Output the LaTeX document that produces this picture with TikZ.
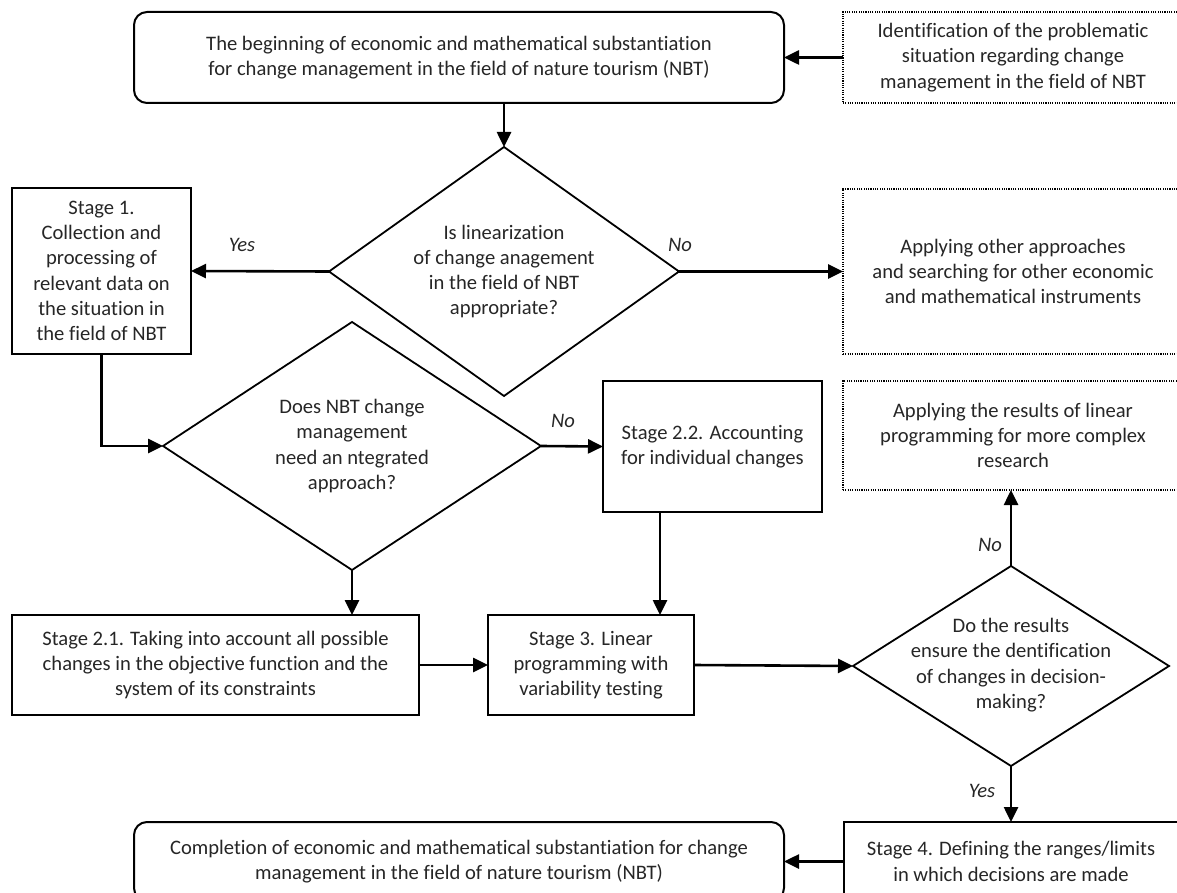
\documentclass[tikz,border=0pt]{standalone}
\usepackage{fontspec}
\setmainfont[Ligatures=NoCommon]{Carlito}
\usetikzlibrary{shapes.geometric,arrows.meta}
\begin{document}
\begin{tikzpicture}[x=1pt,y=-1pt,
  every node/.style={font=\fontsize{20.6}{25.3}\selectfont, text=black!85, align=center, inner sep=0pt, outer sep=0pt},
  rbox/.style={draw, line width=2pt, rounded corners=13pt, anchor=center},
  sbox/.style={draw, line width=2pt, anchor=center},
  dbox/.style={draw, line width=1.2pt, dash pattern=on 1.1pt off 1.2pt, anchor=center},
  dia/.style={draw, diamond, line width=1.8pt, shape aspect=1},
  lab/.style={font=\fontsize{20.6}{25.3}\selectfont\itshape},
  arr/.style={line width=2.6pt, -{Triangle[length=15pt,width=14pt]}}
]
\useasboundingbox (0,0) rectangle (1177,893);
\clip (0,0) rectangle (1177,893);

% boxes
\node[rbox, minimum width=650pt, minimum height=91pt] (top) at (459,57.5)
  {The beginning of economic and mathematical substantiation\\for change management in the field of nature tourism (NBT)};
\node[dbox, minimum width=340pt, minimum height=91pt] (ident) at (1013,57.5)
  {Identification of the problematic\\situation regarding change\\management in the field of NBT};
\node[dbox, minimum width=340pt, minimum height=165pt] (other) at (1013,271.5)
  {Applying other approaches\\and searching for other economic\\and mathematical instruments};
\node[dbox, minimum width=340pt, minimum height=109pt] (apply) at (1013,435.5)
  {Applying the results of linear\\programming for more complex\\research};
\node[sbox, minimum width=179pt, minimum height=166pt] (s1) at (101.5,271)
  {Stage 1.\\Collection and\\processing of\\relevant data on\\the situation in\\the field of NBT};
\node[sbox, minimum width=219pt, minimum height=131pt] (s22) at (712.5,446.5)
  {Stage 2.2. Accounting\\for individual changes};
\node[sbox, minimum width=407pt, minimum height=100pt] (s21) at (215.5,665)
  {Stage 2.1. Taking into account all possible\\changes in the objective function and the\\system of its constraints};
\node[sbox, minimum width=206pt, minimum height=100pt] (s3) at (591,665)
  {Stage 3. Linear\\programming with\\variability testing};
\node[sbox, minimum width=334pt, minimum height=79pt] (s4) at (1011,861.5)
  {Stage 4. Defining the ranges/limits\\in which decisions are made};
\node[rbox, minimum width=650pt, minimum height=79pt] (bot) at (459,861.5)
  {Completion of economic and mathematical substantiation for change\\management in the field of nature tourism (NBT)};

% diamonds
\node[dia, minimum width=350pt, minimum height=249pt] (d1) at (504,271.5) {};
\node at (d1.center) {Is linearization\\of change anagement\\in the field of NBT\\appropriate?};
\node[dia, minimum width=378pt, minimum height=248pt] (d2) at (352,446) {};
\node at (d2.center) {Does NBT change\\management\\need an ntegrated\\approach?};
\node[dia, minimum width=316pt, minimum height=200pt] (d3) at (1011,666) {};
\node at ([yshift=1pt]d3.center) {Do the results\\ensure the dentification\\of changes in decision-\\making?};

% connectors
\draw[arr] (ident.west) -- (top.east);
\draw[arr] (d1.north |- top.south) -- (d1.north);
\draw[arr] (d1.west) -- (s1.east);
\draw[arr] (d1.east) -- (other.west);
\draw[arr] (s1.south) |- (d2.west);
\draw[arr] (d2.east) -- (s22.west);
\draw[arr] (d2.south) -- (d2.south |- s21.north);
\draw[arr] ([xshift=-52.5pt]s22.south) -- ([xshift=69pt]s3.north);
\draw[arr] (s21.east) -- (s3.west);
\draw[arr] (s3.east) -- (d3.west);
\draw[arr] (d3.north) -- (d3.north |- apply.south);
\draw[arr] (d3.south) -- (s4.north);
\draw[arr] (s4.west) -- (bot.east);

% labels
\node[lab] (lyes1) at (242,245) {Yes};
\node[lab] (lno1) at (680,245) {No};
\node[lab] (lno2) at (563,421) {No};
\node[lab] (lno3) at (990,545) {No};
\node[lab] (lyes2) at (982,791) {Yes};
\end{tikzpicture}
\end{document}
